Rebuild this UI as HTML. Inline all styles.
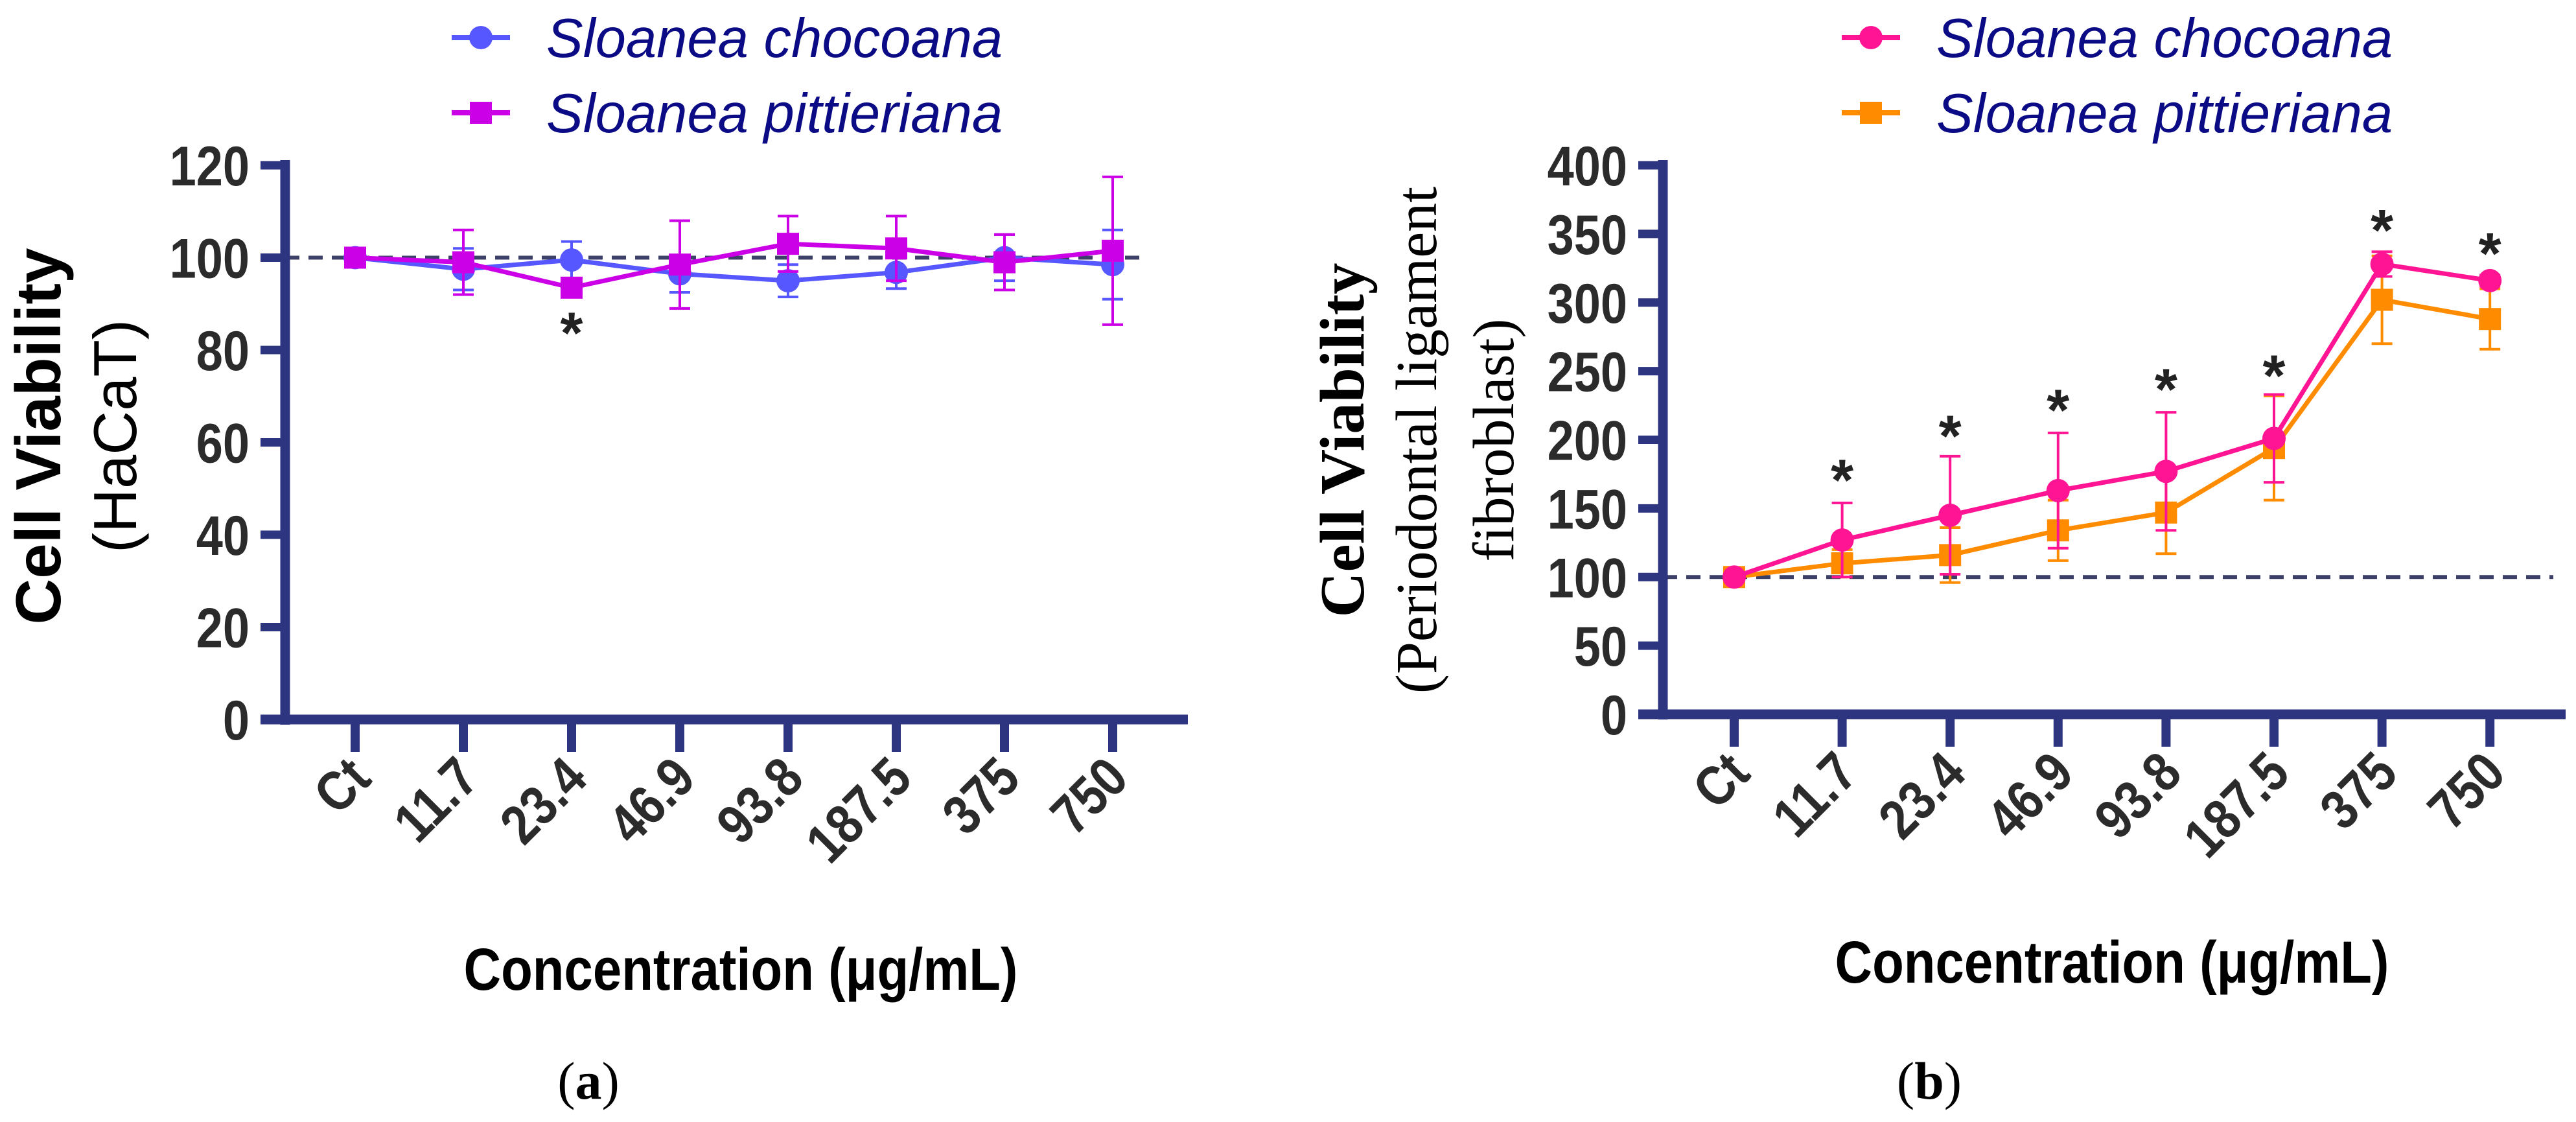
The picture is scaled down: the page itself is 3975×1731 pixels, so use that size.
<!DOCTYPE html>
<html><head><meta charset="utf-8"><style>
html,body{margin:0;padding:0;background:#fff;}
svg{display:block;}
</style></head><body>
<svg id="fig" width="3975" height="1731" viewBox="0 0 3975 1731" xmlns="http://www.w3.org/2000/svg"></svg>
<script>
const categories = ["Ct","11.7","23.4","46.9","93.8","187.5","375","750"];
// Panel a (HaCaT)
const aTicks = [0,20,40,60,80,100,120];
const aChoco = [100,97.5,99.5,96.5,95,96.8,100,98.5];
const aChocoErr = [0,4.5,4,4,3.5,3.5,5,7.5];
const aPitt = [100,99,93.5,98.5,103,102,99,101.5];
const aPittErr = [0,7,2,9.5,6,7,6,16];
const aStars = [null,null,85,null,null,null,null,null];
// Panel b (PDL fibroblast)
const bTicks = [0,50,100,150,200,250,300,350,400];
const bChoco = [100,127,145,163,177,201,328,316];
const bChocoErr = [0,27,43,42,43,32,9,4];
const bPitt = [100,110,116,134,147,194,302,288];
const bPittErr = [0,10,20,22,30,38,32,22];
const bStars = [null,175,207,226,241,251,357,340];

const NS="http://www.w3.org/2000/svg";
const svg=document.getElementById('fig');
function el(tag,attrs,parent,text){const e=document.createElementNS(NS,tag);for(const k in attrs)e.setAttribute(k,attrs[k]);if(text!==undefined)e.textContent=text;(parent||svg).appendChild(e);return e;}

function panel(o){
  const g=el('g',{});
  
  
  const yS=v=>o.y0-(v-o.ymin)/(o.ymax-o.ymin)*(o.y0-o.y1);
  const xS=i=>o.x0+i*o.dx;
  const axisC="#2e3580";
  // dashed reference line
  const ref=el('line',{x1:o.ax,x2:o.refEnd,y1:yS(100),y2:yS(100),stroke:"#3c4068","stroke-width":6,"stroke-dasharray":"22 14"},g);
  
  
  // axes
  const ya=el('line',{x1:o.ax,x2:o.ax,y1:o.y1-8,y2:yS(o.ymin)+8,stroke:axisC,"stroke-width":15},g);
  
  
  const xa=el('line',{x1:o.ax-38,x2:o.axEnd,y1:yS(o.ymin),y2:yS(o.ymin),stroke:axisC,"stroke-width":15},g);
  
  
  o.ticks.forEach(t=>{
    el('line',{x1:o.ax-38,x2:o.ax,y1:yS(t),y2:yS(t),stroke:axisC,"stroke-width":13},g);
    const tl=el('text',{x:0,y:0,transform:`translate(${o.ax-55},${yS(t)+31}) scale(0.86,1)`,"text-anchor":"end","font-family":"Liberation Sans, sans-serif","font-weight":"bold","font-size":86,fill:"#2b2b2b"},g,String(t));
    
    
  });
  categories.forEach((c,i)=>{
    el('line',{x1:xS(i),x2:xS(i),y1:yS(o.ymin),y2:yS(o.ymin)+50,stroke:axisC,"stroke-width":14},g);
    const xl=el('text',{x:0,y:0,transform:`translate(${xS(i)+28},${yS(o.ymin)+95}) rotate(-45) scale(0.86,1)`,"text-anchor":"end","font-family":"Liberation Sans, sans-serif","font-weight":"bold","font-size":86,fill:"#2b2b2b"},g,c);
    
    
  });
  // series
  const series=[
    {vals:o.s1,err:o.e1,col:o.c1,mk:'circle',name:'series-sloanea-chocoana'},
    {vals:o.s2,err:o.e2,col:o.c2,mk:'square',name:'series-sloanea-pittieriana'}];
  const order=o.drawOrder||[0,1];
  order.forEach(si=>{
    const s=series[si];
    const sg=el('g',{},g);
    
    
    s.vals.forEach((v,i)=>{
      if(s.err[i]>0){
        el('line',{x1:xS(i),x2:xS(i),y1:yS(v-s.err[i]),y2:yS(v+s.err[i]),stroke:s.col,"stroke-width":4},sg);
        el('line',{x1:xS(i)-16,x2:xS(i)+16,y1:yS(v-s.err[i]),y2:yS(v-s.err[i]),stroke:s.col,"stroke-width":4},sg);
        el('line',{x1:xS(i)-16,x2:xS(i)+16,y1:yS(v+s.err[i]),y2:yS(v+s.err[i]),stroke:s.col,"stroke-width":4},sg);
      }
    });
    el('polyline',{points:s.vals.map((v,i)=>xS(i)+','+yS(v)).join(' '),fill:'none',stroke:s.col,"stroke-width":7},sg);
    s.vals.forEach((v,i)=>{
      let m;
      if(s.mk==='circle') m=el('circle',{cx:xS(i),cy:yS(v),r:18,fill:s.col},sg);
      else m=el('rect',{x:xS(i)-17,y:yS(v)-17,width:34,height:34,fill:s.col},sg);
      
      
    });
  });
  o.stars.forEach((v,i)=>{
    if(v===null)return;
    const st=el('text',{x:xS(i),y:yS(v)+40,"text-anchor":"middle","font-family":"Liberation Sans, sans-serif","font-weight":"bold","font-size":90,fill:"#222"},g,'*');
    
    
  });
  // legend
  const lg=el('g',{},g);
  
  
  [[o.c1,'circle','Sloanea chocoana',58],[o.c2,'square','Sloanea pittieriana',174]].forEach(([c,mk,t,y])=>{
    el('line',{x1:o.lx,x2:o.lx+90,y1:y,y2:y,stroke:c,"stroke-width":8},lg);
    if(mk==='circle')el('circle',{cx:o.lx+45,cy:y,r:18,fill:c},lg);
    else el('rect',{x:o.lx+28,y:y-17,width:34,height:34,fill:c},lg);
    const lt=el('text',{x:o.lx+146,y:y+30,"font-family":"Liberation Sans, sans-serif","font-style":"italic","font-size":85,fill:"#0b0b85"},lg,t);
    
    
  });
  // x title
  const xt=el('text',{x:o.xtx,y:o.xty,"text-anchor":"middle","font-family":"Liberation Sans, sans-serif","font-weight":"bold","font-size":92,fill:"#000",textLength:855,lengthAdjust:"spacingAndGlyphs"},g,'Concentration (\u03bcg/mL)');
  
  
  const cap=el('text',{x:o.capx,y:1695,"text-anchor":"middle","font-family":"Liberation Serif, serif","font-size":82,fill:"#000"},g);
  
  
  el('tspan',{},cap,'(');el('tspan',{"font-weight":"bold"},cap,o.cap);el('tspan',{},cap,')');
  return {g,yS};
}

panel({name:'panel-a-hacat',ax:440,axEnd:1833,refEnd:1770,y0:1110,y1:255,ymin:0,ymax:120,x0:548,dx:167,
  ticks:aTicks,s1:aChoco,e1:aChocoErr,s2:aPitt,e2:aPittErr,c1:'#5757ff',c2:'#cc00e6',stars:aStars,drawOrder:[0,1],
  lx:697,xtx:1143,xty:1527,capx:908,cap:'a'});
panel({name:'panel-b-fibroblast',ax:2566,axEnd:3959,refEnd:3940,y0:1102,y1:255,ymin:0,ymax:400,x0:2676,dx:166.6,
  ticks:bTicks,s1:bChoco,e1:bChocoErr,s2:bPitt,e2:bPittErr,c1:'#ff1493',c2:'#ff8c00',stars:bStars,drawOrder:[1,0],
  lx:2842,xtx:3259,xty:1516,capx:2977,cap:'b'});

// y titles
function vtext(x,y,txt,attrs,name){
  const a=Object.assign({x:0,y:0,transform:`translate(${x},${y}) rotate(-90)`,"text-anchor":"middle"},attrs);
  const t=el('text',a,svg,txt);
  
  
}
vtext(93,673,'Cell Viability',{"font-family":"Liberation Sans, sans-serif","font-weight":"bold","font-size":98,fill:"#000"},'y-axis-title');
vtext(210,673,'(HaCaT)',{"font-family":"Liberation Sans, sans-serif","font-size":94,fill:"#000"},'y-axis-subtitle');
vtext(2104,679,'Cell Viability',{"font-family":"Liberation Serif, serif","font-weight":"bold","font-size":97,fill:"#000"},'y-axis-title-b');
vtext(2216,679,'(Periodontal ligament',{"font-family":"Liberation Serif, serif","font-size":90,fill:"#000"},'y-axis-subtitle-b');
vtext(2335,679,'fibroblast)',{"font-family":"Liberation Serif, serif","font-size":90,fill:"#000"},'y-axis-subtitle-b2');
</script>
</body></html>
